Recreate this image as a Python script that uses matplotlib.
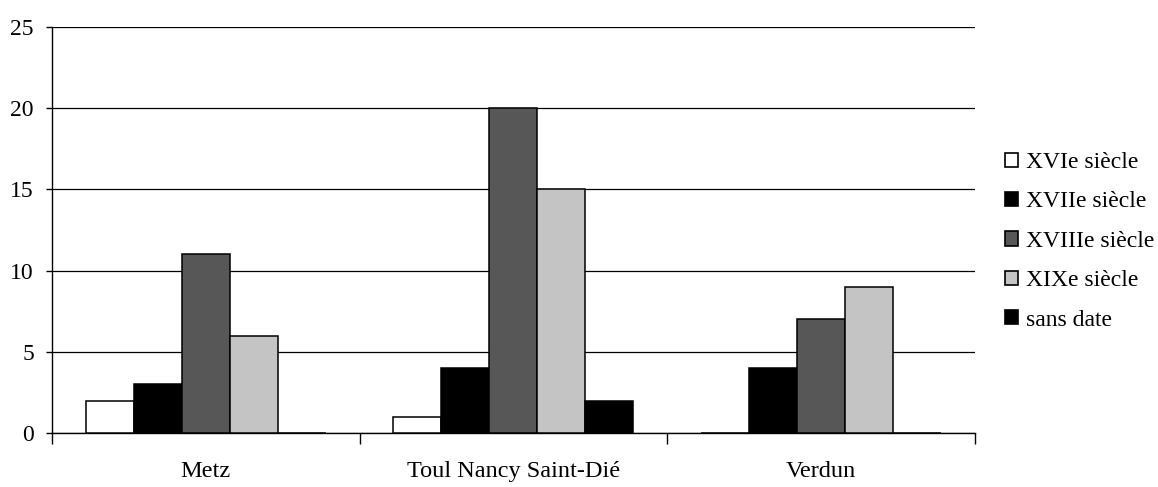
import numpy as np
import matplotlib
matplotlib.use("Agg")
import matplotlib.pyplot as plt
from matplotlib.patches import Patch

CATEGORIES = ["Metz", "Toul Nancy Saint-Dié", "Verdun"]
SERIES = ["XVIe siècle", "XVIIe siècle", "XVIIIe siècle", "XIXe siècle", "sans date"]
XVI = [2, 1, 0]
XVII = [3, 4, 4]
XVIII = [11, 20, 7]
XIX = [6, 15, 9]
SANS_DATE = [0, 2, 0]
Y_TICKS = [0, 5, 10, 15, 20, 25]

FILLS = ["white", "black", "#575757", "#c4c4c4", "black"]

plt.rcParams["font.family"] = ["Liberation Serif", "DejaVu Serif"]

fig = plt.figure(figsize=(11.58, 4.87), dpi=100)
ax = fig.add_axes([0.0449, 0.1109, 0.797, 0.8337])

values = [XVI, XVII, XVIII, XIX, SANS_DATE]
x = np.arange(len(CATEGORIES))
width = 0.156
for i, (vals, color) in enumerate(zip(values, FILLS)):
    ax.bar(x + (i - 2) * width, vals, width, color=color, edgecolor="black",
           linewidth=1.1, zorder=3)

ax.set_xlim(-0.5, len(CATEGORIES) - 0.5)
ax.set_ylim(0, 25)
ax.set_yticks(Y_TICKS)
ax.yaxis.grid(True, color="black", linewidth=0.9, zorder=0)
ax.set_axisbelow(True)

# ticks at the category boundaries, labels centred under each group
ax.set_xticks(np.arange(len(CATEGORIES) + 1) - 0.5)
ax.set_xticklabels([])
ax.set_xticks(x, minor=True)
ax.set_xticklabels(CATEGORIES, minor=True, fontsize=17.5)
ax.tick_params(axis="x", which="major", direction="out", length=8, width=1)
ax.tick_params(axis="x", which="minor", length=0, pad=20)
ax.tick_params(axis="y", direction="out", length=4, width=1, pad=9, labelsize=17)

for side in ["top", "right"]:
    ax.spines[side].set_visible(False)
ax.spines["left"].set_linewidth(1)
ax.spines["bottom"].set_linewidth(1)

handles = [Patch(facecolor=c, edgecolor="black", linewidth=1.2) for c in FILLS]
fig.legend(handles, SERIES, loc="upper left", bbox_to_anchor=(0.868, 1 - 152 / 487),
           frameon=False, fontsize=17, handlelength=0.55, handleheight=0.55,
           handletextpad=0.35, labelspacing=0.78, borderpad=0, borderaxespad=0)

fig.savefig("out.png", dpi=100, facecolor="white")
